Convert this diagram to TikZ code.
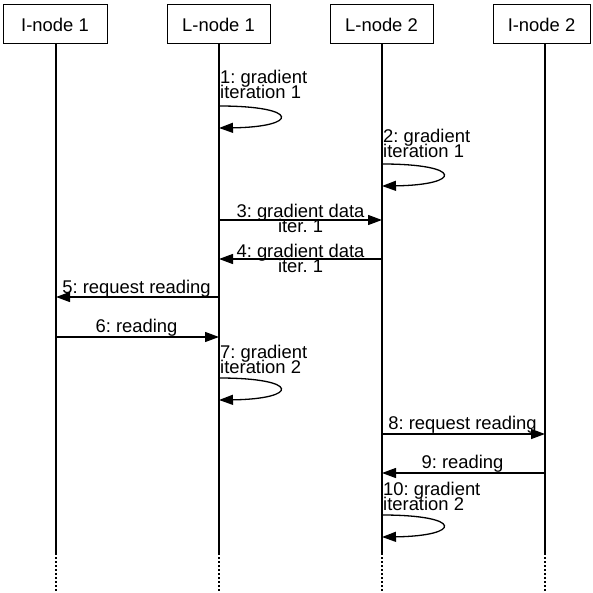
\documentclass[tikz,border=0pt]{standalone}
\usepackage{fontspec}
\setmainfont{Liberation Sans}
\usetikzlibrary{arrows.meta}
\frenchspacing
\lineskiplimit=-30pt
\lineskip=0pt
\begin{document}
\begin{tikzpicture}[x=1pt,y=-1pt,
  head/.style={draw, line width=1pt, minimum height=39pt, inner sep=0pt, font=\fontsize{18.4}{18}\selectfont},
  life/.style={line width=1.5pt},
  lifedot/.style={line width=1.5pt, dash pattern=on 2pt off 2pt},
  msg/.style={line width=1.3pt, -{Triangle[length=14pt,width=10pt]}},
  lbl/.style={font=\fontsize{18.4}{15}\selectfont, inner sep=0pt, align=left},
  clbl/.style={font=\fontsize{18.4}{15}\selectfont, inner sep=0pt, align=center}
]
\useasboundingbox (0,0) rectangle (592,593);
% heads
\node[head, minimum width=104pt] (h1) at (55,24.5) {I-node 1};
\node[head, minimum width=103pt] (h2) at (218.5,24.5) {L-node 1};
\node[head, minimum width=103pt] (h3) at (381.5,24.5) {L-node 2};
\node[head, minimum width=97pt] (h4) at (541.5,24.5) {I-node 2};
% lifelines
\foreach \i/\x in {1/56,2/219,3/382,4/545}{
  \coordinate (t\i) at (\x,44);
  \coordinate (e\i) at (\x,553);
  \coordinate (d\i) at (\x,593);
}
\foreach \i in {1,2,3,4}{
  \draw[life] (t\i) -- (e\i);
  \draw[lifedot] (e\i) -- (d\i);
}
% self loops
\newcommand\selfloop[3]{% name, x, ystart
  \coordinate (#1s) at (#2,#3);
  \coordinate (#1e) at (#2,#3+22);
  \draw[msg] (#1s) .. controls (#2+82,#3) and (#2+80,#3+21) .. (#1e);
}
\selfloop{a}{219}{106}
\node[lbl, anchor=base west] (la) at (220,99) {1: gradient\\iteration 1};
\selfloop{b}{382}{164}
\node[lbl, anchor=base west] (lb) at (383,158) {2: gradient\\iteration 1};
\selfloop{g}{219}{378}
\node[lbl, anchor=base west] (lg) at (220,373) {7: gradient\\iteration 2};
\selfloop{j}{382}{515}
\node[lbl, anchor=base west] (lj) at (383,510) {10: gradient\\iteration 2};
% messages
\coordinate (m3a) at (219,220); \coordinate (m3b) at (382,220);
\draw[msg] (m3a) -- (m3b);
\node[clbl, anchor=base] (l3) at (300.5,233) {3: gradient data\\iter. 1};
\coordinate (m4a) at (382,259); \coordinate (m4b) at (219,259);
\draw[msg] (m4a) -- (m4b);
\node[clbl, anchor=base] (l4) at (300.5,272) {4: gradient data\\iter. 1};
\coordinate (m5a) at (219,297); \coordinate (m5b) at (56,297);
\draw[msg] (m5a) -- (m5b);
\node[clbl, anchor=base] (l5) at (136.5,293) {5: request reading};
\coordinate (m6a) at (56,337); \coordinate (m6b) at (219,337);
\draw[msg] (m6a) -- (m6b);
\node[clbl, anchor=base] (l6) at (136.5,332) {6: reading};
\coordinate (m8a) at (382,434); \coordinate (m8b) at (545,434);
\draw[msg] (m8a) -- (m8b);
\node[clbl, anchor=base] (l8) at (462.5,429) {8: request reading};
\coordinate (m9a) at (545,473); \coordinate (m9b) at (382,473);
\draw[msg] (m9a) -- (m9b);
\node[clbl, anchor=base] (l9) at (462.5,468) {9: reading};
\end{tikzpicture}
\end{document}
